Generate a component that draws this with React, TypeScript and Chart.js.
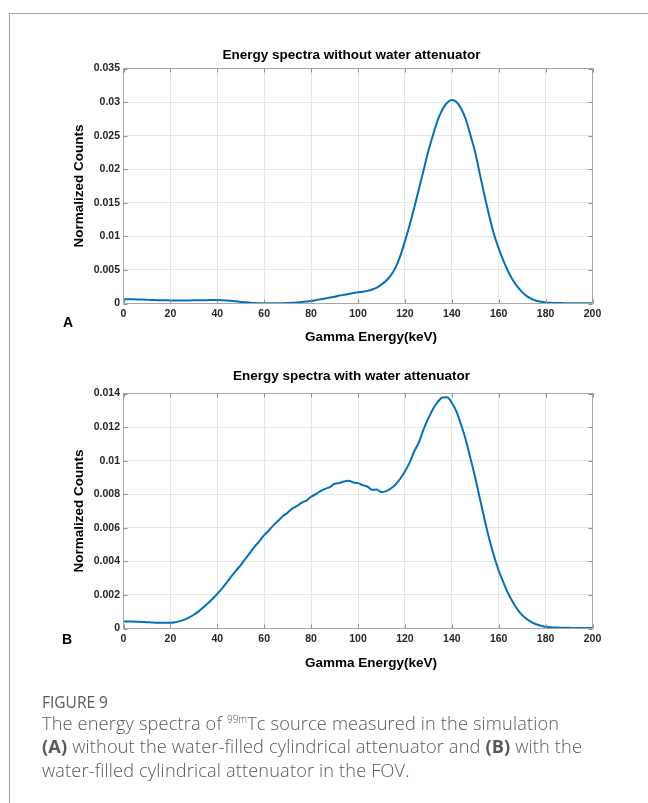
import React, { useEffect, useRef } from 'react';
import { Chart, registerables } from 'chart.js';

Chart.register(...registerables);

const FONT = "'Liberation Sans', Arial, Helvetica, sans-serif";

const energyKeV = [
  0, 2, 4, 6, 8, 10, 12, 14, 16, 18, 20, 22, 24, 26, 28, 30, 32, 34, 36, 38,
  40, 42, 44, 46, 48, 50, 52, 54, 56, 58, 60, 62, 64, 66, 68, 70, 72, 74, 76, 78,
  80, 82, 84, 86, 88, 90, 92, 94, 96, 98, 100, 102, 104, 106, 108, 110, 112, 114, 116, 118,
  120, 122, 124, 126, 128, 130, 132, 134, 136, 138, 140, 142, 144, 146, 148, 150, 152, 154, 156, 158,
  160, 162, 164, 166, 168, 170, 172, 174, 176, 178, 180, 182, 184, 186, 188, 190, 192, 194, 196, 198, 200,
];

const countsNoWater = [
  0.00065, 0.00064, 0.00062, 0.0006, 0.00058, 0.00055, 0.00052, 0.0005, 0.00048, 0.00047,
  0.00046, 0.00045, 0.00045, 0.00045, 0.00046, 0.00047, 0.00048, 0.00049, 0.0005, 0.00051,
  0.00051, 0.0005, 0.00046, 0.0004, 0.00032, 0.00024, 0.00017, 0.00011, 0.00007, 0.00005,
  0.00004, 0.00004, 0.00004, 0.00004, 0.00005, 0.00007, 0.0001, 0.00015, 0.00021, 0.00029,
  0.00038, 0.0005, 0.00062, 0.00075, 0.00088, 0.001, 0.00118, 0.0013, 0.0014, 0.00155,
  0.00166, 0.00176, 0.00188, 0.00208, 0.00238, 0.00282, 0.0034, 0.0042, 0.00535, 0.00705,
  0.00925, 0.01165, 0.0143, 0.0171, 0.0199, 0.0227, 0.0251, 0.0273, 0.0289, 0.0299,
  0.0303, 0.03, 0.029, 0.0274, 0.025, 0.0225, 0.0192, 0.016, 0.013, 0.0103,
  0.0082, 0.0064, 0.0048, 0.0035, 0.0025, 0.0017, 0.0011, 0.0007, 0.00042, 0.00025,
  0.00015, 0.0001, 0.00007, 0.00006, 0.00005, 0.00005, 0.00004, 0.00004, 0.00004, 0.00004, 0.00004,
];

const countsWater = [
  0.00042, 0.00041, 0.00041, 0.0004, 0.00039, 0.00037, 0.00036, 0.00034, 0.00034, 0.00035,
  0.00034, 0.00037, 0.00044, 0.00053, 0.00066, 0.00082, 0.00102, 0.00125, 0.0015, 0.00177,
  0.00207, 0.00238, 0.00273, 0.0031, 0.00345, 0.00378, 0.00416, 0.00452, 0.00489, 0.00521,
  0.00556, 0.00584, 0.00616, 0.00642, 0.0067, 0.0069, 0.00714, 0.0073, 0.0075, 0.00762,
  0.00785, 0.008, 0.00818, 0.00832, 0.00842, 0.00862, 0.00866, 0.00876, 0.0088, 0.0087,
  0.00866, 0.00854, 0.00846, 0.00826, 0.00828, 0.00812, 0.00818, 0.00834, 0.00858, 0.00892,
  0.00935, 0.00988, 0.01056, 0.0111, 0.01188, 0.01252, 0.01308, 0.0135, 0.01376, 0.01378,
  0.01345, 0.01292, 0.01212, 0.01122, 0.01012, 0.00898, 0.00772, 0.00648, 0.00532, 0.00432,
  0.00345, 0.00275, 0.0021, 0.00158, 0.00114, 0.0008, 0.00056, 0.00038, 0.00025, 0.00016,
  0.00011, 0.00008, 0.00006, 0.00005, 0.00004, 0.00004, 0.00003, 0.00003, 0.00003, 0.00003, 0.00003,
];

const xTickValues = [0, 20, 40, 60, 80, 100, 120, 140, 160, 180, 200];
const yTicksNoWater = [0, 0.005, 0.01, 0.015, 0.02, 0.025, 0.03, 0.035];
const yTicksWater = [0, 0.002, 0.004, 0.006, 0.008, 0.01, 0.012, 0.014];

const titleNoWater = 'Energy spectra without water attenuator';
const titleWater = 'Energy spectra with water attenuator';
const xAxisTitle = 'Gamma Energy(keV)';
const yAxisTitle = 'Normalized Counts';

const CANVAS_LEFT = 40;

type SpecProps = {
  top: number;
  title: string;
  counts: number[];
  yTicks: number[];
  yMax: number;
  areaTop: number;
  titleY: number;
  xAxisHeight: number;
  xTitleY: number;
};

function fmt(v: number) {
  if (v === 0) return '0';
  return String(Number(v.toFixed(4)));
}

function Spectrum(p: SpecProps) {
  const ref = useRef<HTMLCanvasElement | null>(null);
  useEffect(() => {
    if (!ref.current) return;
    const boxPlugin = {
      id: 'matlabBox',
      afterDatasetsDraw(chart: any) {
        const { ctx, chartArea, scales } = chart;
        const { left, right, top, bottom } = chartArea;
        const x = scales.x;
        const y = scales.y;
        ctx.save();
        ctx.lineWidth = 1;
        ctx.strokeStyle = '#8f8f8f';
        const tl = 4;
        ctx.beginPath();
        x.ticks.forEach((t: any) => {
          const px = Math.round(x.getPixelForValue(t.value)) + 0.5;
          ctx.moveTo(px, bottom);
          ctx.lineTo(px, bottom - tl);
          ctx.moveTo(px, top);
          ctx.lineTo(px, top + tl);
        });
        y.ticks.forEach((t: any) => {
          const py = Math.round(y.getPixelForValue(t.value)) + 0.5;
          ctx.moveTo(left, py);
          ctx.lineTo(left + tl, py);
          ctx.moveTo(right, py);
          ctx.lineTo(right - tl, py);
        });
        ctx.stroke();
        ctx.strokeStyle = '#a8a8a8';
        ctx.strokeRect(left, top, right - left, bottom - top);

        ctx.fillStyle = '#000';
        ctx.font = `bold 13.5px ${FONT}`;
        ctx.textAlign = 'center';
        ctx.textBaseline = 'middle';
        ctx.fillText(p.title, 351.5 - CANVAS_LEFT, p.titleY - p.top);
        ctx.fillText(xAxisTitle, 371 - CANVAS_LEFT, p.xTitleY - p.top);
        ctx.restore();
      },
    };
    const chart = new Chart(ref.current, {
      type: 'line',
      data: {
        datasets: [
          {
            data: energyKeV.map((e, i) => ({ x: e, y: p.counts[i] })),
            borderColor: '#0072BD',
            borderWidth: 2,
            pointRadius: 0,
            cubicInterpolationMode: 'monotone',
            fill: false,
          },
        ],
      },
      options: {
        animation: false,
        responsive: false,
        devicePixelRatio: 1,
        layout: { padding: { left: 0, right: 27.5, top: p.areaTop - p.top, bottom: 0 } },
        plugins: {
          legend: { display: false },
          tooltip: { enabled: false },
          title: { display: false },
        },
        scales: {
          x: {
            type: 'linear',
            min: 0,
            max: 200,
            afterBuildTicks: (s: any) => {
              s.ticks = xTickValues.map((v) => ({ value: v }));
            },
            afterFit: (s: any) => {
              s.height = p.xAxisHeight;
            },
            grid: { color: '#e6e6e6', drawTicks: false, lineWidth: 1 },
            border: { display: false },
            ticks: {
              autoSkip: false,
              maxRotation: 0,
              padding: 4.3,
              color: '#262626',
              font: { family: FONT, size: 10.5, weight: 'bold', lineHeight: 1.2 },
              callback: (v: any) => String(v),
            },
            title: { display: false },
          },
          y: {
            type: 'linear',
            min: 0,
            max: p.yMax,
            afterBuildTicks: (s: any) => {
              s.ticks = p.yTicks.map((v) => ({ value: v }));
            },
            afterFit: (s: any) => {
              s.width = 83.5;
            },
            grid: { color: '#e6e6e6', drawTicks: false, lineWidth: 1 },
            border: { display: false },
            ticks: {
              padding: 3.5,
              color: '#262626',
              font: { family: FONT, size: 10.5, weight: 'bold', lineHeight: 1.2 },
              callback: (v: any) => fmt(Number(v)),
            },
            title: {
              display: true,
              text: yAxisTitle,
              color: '#000',
              font: { family: FONT, size: 13.5, weight: 'bold', lineHeight: 1.2 },
              padding: { top: 31, bottom: 0 },
            },
          },
        },
      },
      plugins: [boxPlugin],
    } as any);
    return () => chart.destroy();
  }, []);
  return (
    <canvas
      ref={ref}
      width={580}
      height={320}
      style={{ position: 'absolute', left: CANVAS_LEFT, top: p.top, width: 580, height: 320 }}
    />
  );
}

const panelLabel: React.CSSProperties = {
  position: 'absolute',
  fontFamily: FONT,
  fontWeight: 'bold',
  fontSize: 14,
  lineHeight: '14px',
  color: '#000',
};

const captionFont = "'Open Sans', Lato, 'Noto Sans', sans-serif";
const captionLine: React.CSSProperties = {
  position: 'absolute',
  left: 42,
  fontFamily: captionFont,
  fontSize: 18.2,
  letterSpacing: 0.15,
  lineHeight: '23px',
  color: '#58595b',
  whiteSpace: 'nowrap',
  fontWeight: 300,
};

export default function App() {
  return (
    <div style={{ position: 'absolute', left: 0, top: 0, width: 648, height: 803, overflow: 'hidden', background: '#fff' }}>
      <div
        style={{
          position: 'absolute',
          left: 9,
          top: 13,
          width: 700,
          height: 900,
          borderTop: '1px solid #a0a0a0',
          borderLeft: '1px solid #a0a0a0',
        }}
      />
      <Spectrum
        top={36}
        title={titleNoWater}
        counts={countsNoWater}
        yTicks={yTicksNoWater}
        yMax={0.035}
        areaTop={68.5}
        titleY={54.8}
        xAxisHeight={52.5}
        xTitleY={337.5}
      />
      <Spectrum
        top={356}
        title={titleWater}
        counts={countsWater}
        yTicks={yTicksWater}
        yMax={0.014}
        areaTop={393.5}
        titleY={376}
        xAxisHeight={47.5}
        xTitleY={662.8}
      />
      <div style={{ ...panelLabel, left: 63, top: 315 }}>A</div>
      <div style={{ ...panelLabel, left: 62, top: 632 }}>B</div>
      <div style={{ ...captionLine, top: 690.5, fontSize: 15.5, letterSpacing: 0, fontWeight: 400 }}>FIGURE 9</div>
      <div style={{ ...captionLine, top: 711.5 }}>
        The energy spectra of{' '}
        <span style={{ fontSize: 10, letterSpacing: 0, position: 'relative', top: -7, lineHeight: 0 }}>99m</span>Tc source measured in the simulation
      </div>
      <div style={{ ...captionLine, top: 735 }}>
        <b style={{ fontWeight: 700 }}>(A)</b> without the water-filled cylindrical attenuator and{' '}
        <b style={{ fontWeight: 700 }}>(B)</b> with the
      </div>
      <div style={{ ...captionLine, top: 758.5 }}>water-filled cylindrical attenuator in the FOV.</div>
    </div>
  );
}
